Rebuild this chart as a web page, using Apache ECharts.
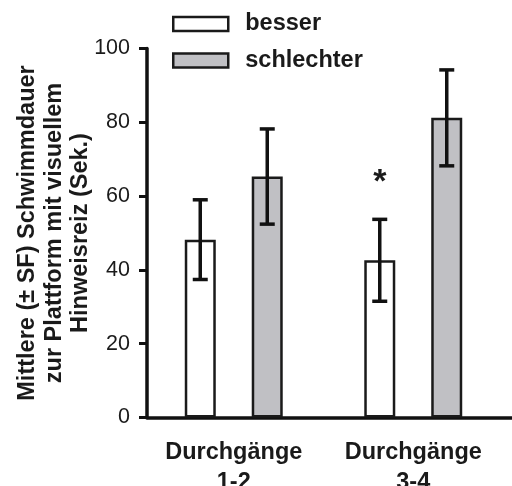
<!DOCTYPE html>
<html>
<head>
<meta charset="utf-8">
<style>
  html, body { margin: 0; padding: 0; background: #ffffff; }
  #chart { width: 512px; height: 486px; }
</style>
<script src="https://cdn.jsdelivr.net/npm/echarts@6/dist/echarts.min.js"></script>
</head>
<body>
<div id="chart"></div>
<script>
// Swim time to the visible platform, by trial block and group
const categories = ['Durchgänge\n1-2', 'Durchgänge\n3-4'];
const seriesNames = ['besser', 'schlechter'];
const besserMean = [48.2, 42.6];
const besserSE = [10.8, 11.1];
const schlechterMean = [65.3, 81.2];
const schlechterSE = [12.9, 13.0];
const besserMarks = ['', '*'];
const starLevel = 65;
const yTicks = { min: 0, max: 100, interval: 20 };

const FONT = '"Liberation Sans", Arial, Helvetica, sans-serif';
const INK = '#1a1a1a';
const GREY = '#c0c0c4';
const BAR_W = 31;
const BAR_OFFSET = 33.5;   // half distance between the two bar centres in a group

function errorData(means, ses) {
  return means.map((m, i) => [i, m - ses[i], m + ses[i], m]);
}

function errorRenderer(side, marks) {
  return function (params, api) {
    const idx = api.value(0);
    const lowPt = api.coord([idx, api.value(1)]);
    const highPt = api.coord([idx, api.value(2)]);
    const x = lowPt[0] + side * BAR_OFFSET;
    const cap = 7.5;
    const style = { stroke: '#111111', lineWidth: 3.5 };
    const children = [
      { type: 'line', shape: { x1: x, y1: highPt[1], x2: x, y2: lowPt[1] }, style },
      { type: 'line', shape: { x1: x - cap, y1: highPt[1], x2: x + cap, y2: highPt[1] }, style },
      { type: 'line', shape: { x1: x - cap, y1: lowPt[1], x2: x + cap, y2: lowPt[1] }, style }
    ];
    if (marks && marks[idx]) {
      const starPt = api.coord([idx, starLevel]);
      children.push({
        type: 'text',
        style: {
          x: x, y: starPt[1] + 5,
          text: marks[idx],
          fill: INK,
          font: 'bold 34px ' + FONT,
          align: 'center',
          verticalAlign: 'middle'
        }
      });
    }
    return { type: 'group', children };
  };
}

const chart = echarts.init(document.getElementById('chart'), null, { renderer: 'canvas' });

const gridTop = 48.5, gridBottom = 68.5;

chart.setOption({
  animation: false,
  backgroundColor: '#ffffff',
  legend: {
    data: seriesNames,
    orient: 'vertical',
    left: 172,
    top: 12,
    padding: 0,
    icon: 'rect',
    itemWidth: 55,
    itemHeight: 14,
    itemGap: 12.5,
    itemStyle: { borderColor: INK, borderWidth: 2.5 },
    textStyle: {
      fontFamily: FONT, fontWeight: 'bold', fontSize: 23.5, color: INK,
      lineHeight: 24, padding: [0, 0, 0, 12]
    },
    selectedMode: false
  },
  grid: [
    { left: 144, right: 9, top: gridTop, bottom: gridBottom, outerBoundsMode: 'none', containLabel: false },
    { left: 147, right: 0, top: gridTop, bottom: gridBottom, outerBoundsMode: 'none', containLabel: false }
  ],
  xAxis: [
    {
      type: 'category', gridIndex: 0, data: categories,
      axisLine: { show: false }, axisTick: { show: false },
      axisLabel: {
        fontFamily: FONT, fontWeight: 'bold', fontSize: 23.5, color: INK,
        lineHeight: 30, margin: 20, interval: 0
      }
    },
    {
      type: 'value', gridIndex: 1, min: 0, max: 1,
      axisLine: { show: true, lineStyle: { color: '#111111', width: 3.5 } },
      axisTick: { show: false }, axisLabel: { show: false }, splitLine: { show: false }
    }
  ],
  yAxis: [
    {
      type: 'value', gridIndex: 0, min: yTicks.min, max: yTicks.max, interval: yTicks.interval,
      show: false
    },
    {
      type: 'value', gridIndex: 1, min: yTicks.min, max: yTicks.max, interval: yTicks.interval,
      name: 'Mittlere (± SF) Schwimmdauer\nzur Plattform mit visuellem\nHinweisreiz (Sek.)',
      nameLocation: 'middle',
      nameRotate: 90,
      nameGap: 53,
      nameMoveOverlap: false,
      nameTextStyle: {
        fontFamily: FONT, fontWeight: 'bold', fontSize: 23.5, color: INK, lineHeight: 26.5
      },
      axisLine: { show: true, lineStyle: { color: '#111111', width: 3.5 } },
      axisTick: { show: true, length: 8, lineStyle: { color: '#111111', width: 3 } },
      axisLabel: { fontFamily: FONT, fontSize: 21.5, color: INK, margin: 17 },
      splitLine: { show: false }
    }
  ],
  series: [
    {
      name: seriesNames[0], type: 'bar', xAxisIndex: 0, yAxisIndex: 0,
      data: besserMean, barWidth: BAR_W, barGap: '116%',
      itemStyle: { color: '#ffffff', borderColor: INK, borderWidth: 2.5 }
    },
    {
      name: seriesNames[1], type: 'bar', xAxisIndex: 0, yAxisIndex: 0,
      data: schlechterMean, barWidth: BAR_W, barGap: '116%',
      itemStyle: { color: GREY, borderColor: INK, borderWidth: 2.5 }
    },
    {
      type: 'custom', xAxisIndex: 0, yAxisIndex: 0, z: 5,
      renderItem: errorRenderer(-1, besserMarks),
      data: errorData(besserMean, besserSE)
    },
    {
      type: 'custom', xAxisIndex: 0, yAxisIndex: 0, z: 5,
      renderItem: errorRenderer(1, null),
      data: errorData(schlechterMean, schlechterSE)
    }
  ]
});
</script>
</body>
</html>
